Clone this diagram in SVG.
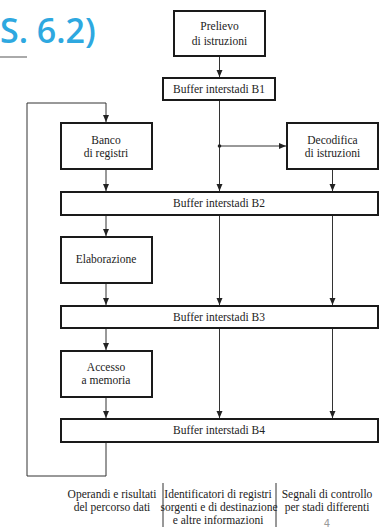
<svg xmlns="http://www.w3.org/2000/svg" width="390" height="529" viewBox="0 0 390 529">
<style>
.box{fill:#fff;stroke:#1a1a1a;stroke-width:2}
.ln{fill:none;stroke:#333;stroke-width:1}
.t{font-family:"Liberation Serif","Times New Roman",serif;font-size:11.5px;fill:#222;text-anchor:middle}
.c{font-family:"Liberation Serif","Times New Roman",serif;font-size:11.5px;fill:#222;text-anchor:middle}
</style>
<defs>
<marker id="ar" markerWidth="8" markerHeight="8" refX="7" refY="3" orient="auto" markerUnits="userSpaceOnUse">
<path d="M0,0 L7,3 L0,6 Z" fill="#222"/>
</marker>
</defs>
<g id="title">
<text x="0" y="43" font-family="'Open Sans','DejaVu Sans',sans-serif" font-size="34" font-weight="600" fill="#2ea8e0">S. 6.2)</text>
<line x1="0" y1="57" x2="27" y2="57" stroke="#aaa" stroke-width="2"/>
</g>
<g id="connectors">
<line class="ln" x1="219.5" y1="56" x2="219.5" y2="77" marker-end="url(#ar)"/>
<line class="ln" x1="219.5" y1="100" x2="219.5" y2="191" marker-end="url(#ar)"/>
<line class="ln" x1="219.5" y1="146" x2="286" y2="146" marker-end="url(#ar)"/>
<circle cx="219.5" cy="146" r="1.8" fill="#222"/>
<polyline class="ln" points="106,442 106,476 27,476 27,103 106,103 106,122" marker-end="url(#ar)"/>
<line class="ln" x1="106" y1="169" x2="106" y2="191" marker-end="url(#ar)"/>
<line class="ln" x1="332.5" y1="169" x2="332.5" y2="191" marker-end="url(#ar)"/>
<line class="ln" x1="106" y1="215" x2="106" y2="236" marker-end="url(#ar)"/>
<line class="ln" x1="219.5" y1="215" x2="219.5" y2="305" marker-end="url(#ar)"/>
<line class="ln" x1="332.5" y1="215" x2="332.5" y2="305" marker-end="url(#ar)"/>
<line class="ln" x1="106" y1="283" x2="106" y2="305" marker-end="url(#ar)"/>
<line class="ln" x1="106" y1="328" x2="106" y2="350" marker-end="url(#ar)"/>
<line class="ln" x1="219.5" y1="328" x2="219.5" y2="418" marker-end="url(#ar)"/>
<line class="ln" x1="332.5" y1="328" x2="332.5" y2="418" marker-end="url(#ar)"/>
<line class="ln" x1="106" y1="397" x2="106" y2="418" marker-end="url(#ar)"/>
<line class="ln" x1="163" y1="483" x2="163" y2="527"/>
<line class="ln" x1="276" y1="483" x2="276" y2="527"/>
</g>
<g id="prelievo">
<rect class="box" x="174" y="11" width="91" height="45"/>
<text class="t" x="219.5" y="30">Prelievo</text>
<text class="t" x="219.5" y="45">di istruzioni</text>
</g>
<g id="b1">
<rect class="box" x="163" y="78" width="112" height="22"/>
<text class="t" x="219" y="93">Buffer interstadi B1</text>
</g>
<g id="banco">
<rect class="box" x="61" y="123" width="91" height="46"/>
<text class="t" x="106" y="144">Banco</text>
<text class="t" x="106" y="157">di registri</text>
</g>
<g id="decodifica">
<rect class="box" x="287" y="123" width="91" height="46"/>
<text class="t" x="332.5" y="144">Decodifica</text>
<text class="t" x="332.5" y="157">di istruzioni</text>
</g>
<g id="b2">
<rect class="box" x="61" y="192" width="317" height="23"/>
<text class="t" x="219" y="207">Buffer interstadi B2</text>
</g>
<g id="elaborazione">
<rect class="box" x="61" y="237" width="91" height="46"/>
<text class="t" x="106" y="263">Elaborazione</text>
</g>
<g id="b3">
<rect class="box" x="61" y="306" width="317" height="22"/>
<text class="t" x="219" y="321">Buffer interstadi B3</text>
</g>
<g id="accesso">
<rect class="box" x="61" y="351" width="91" height="46"/>
<text class="t" x="106" y="371">Accesso</text>
<text class="t" x="106" y="384">a memoria</text>
</g>
<g id="b4">
<rect class="box" x="61" y="419" width="317" height="23"/>
<text class="t" x="219" y="434">Buffer interstadi B4</text>
</g>
<g id="labels">
<text class="c" x="112" y="498">Operandi e risultati</text>
<text class="c" x="112" y="511">del percorso dati</text>
<text class="c" x="218" y="498">Identificatori di registri</text>
<text class="c" x="219" y="511">sorgenti e di destinazione</text>
<text class="c" x="218" y="524">e altre informazioni</text>
<text class="c" x="327" y="498">Segnali di controllo</text>
<text class="c" x="327" y="511">per stadi differenti</text>
<text x="327" y="527" font-family="'DejaVu Sans',sans-serif" font-size="10" fill="#999" text-anchor="middle">4</text>
</g>
</svg>
